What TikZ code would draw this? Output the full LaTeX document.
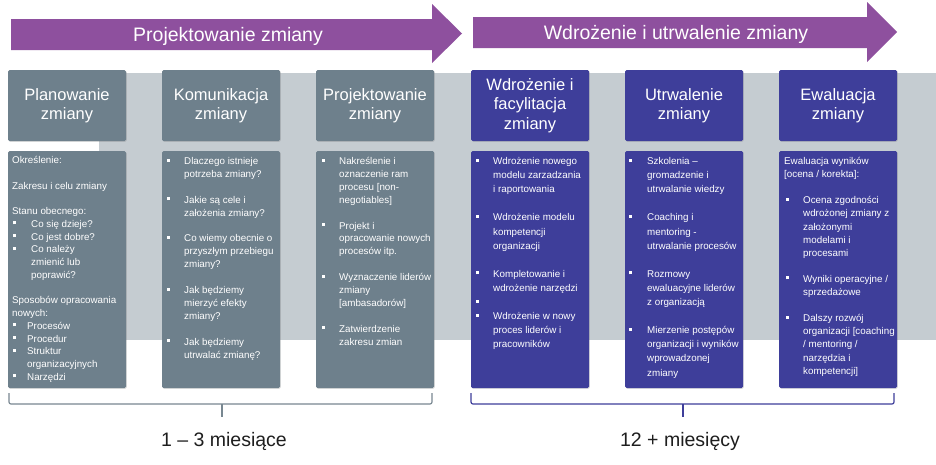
\documentclass[tikz,border=0pt]{standalone}
\usepackage{fontspec}
\setmainfont{Liberation Sans}
\usetikzlibrary{shadows}
\definecolor{purp}{RGB}{142,80,158}
\definecolor{greyc}{RGB}{110,128,140}
\definecolor{bluec}{RGB}{62,62,154}
\definecolor{bandc}{RGB}{197,204,209}
\definecolor{bracegrey}{RGB}{120,135,145}
\definecolor{labc}{RGB}{30,30,30}
\newcommand\gapline{\vspace{\baselineskip}}
\newcommand\bitem[3][0pt]{\par\hangindent=#2\hangafter=1\noindent\makebox[#2][l]{\hspace{#1}\raisebox{3pt}{\rule{3pt}{3pt}}}#3\par}
\newcommand\ptfont[1]{\fontsize{9.8}{#1}\selectfont\parindent=0pt\parskip=0pt}
\tikzset{
  headbox/.style={rounded corners=1.5pt, minimum width=118pt, minimum height=71pt, inner sep=0pt,
    text=white, align=center, font=\fontsize{16.5}{19.5}\selectfont,
    drop shadow={opacity=0.25, shadow xshift=0.8pt, shadow yshift=-0.8pt}},
  panelbox/.style={rounded corners=1.5pt, minimum width=118pt, minimum height=237pt, inner sep=0pt,
    drop shadow={opacity=0.25, shadow xshift=0.8pt, shadow yshift=-0.8pt}},
  ptext/.style={anchor=base west, inner sep=0pt, text=white},
  arrtext/.style={anchor=base, inner sep=0pt, text=white, font=\fontsize{19.5}{23}\selectfont},
  labtext/.style={anchor=base, inner sep=0pt, text=labc, font=\fontsize{19.5}{23}\selectfont},
  bracel/.style={line width=1.2pt, rounded corners=2pt}
}
\begin{document}
\begin{tikzpicture}[x=1pt, y=-1pt]
\useasboundingbox (0,0) rectangle (936,464);
\fill[white] (0,0) rectangle (936,464);
% background band
\fill[bandc] (99,73) rectangle (936,340);
% phase arrows
\fill[purp] (11,19) -- (432,19) -- (432,4) -- (462,33.5) -- (432,63) -- (432,50) -- (11,50) -- cycle;
\fill[purp] (473,17) -- (867,17) -- (867,2) -- (897,32) -- (867,62) -- (867,48) -- (473,48) -- cycle;
\node[arrtext] (a1) at (228,41) {Projektowanie zmiany};
\node[arrtext] (a2) at (676,39) {Wdrożenie i utrwalenie zmiany};
% header boxes
\node[headbox, fill=greyc] (h1) at (67,105.5) {Planowanie\\zmiany};
\node[headbox, fill=greyc] (h2) at (221,105.5) {Komunikacja\\zmiany};
\node[headbox, fill=greyc] (h3) at (375,105.5) {Projektowanie\\zmiany};
\node[headbox, fill=bluec] (h4) at (530,105.5) {Wdrożenie i\\facylitacja\\zmiany};
\node[headbox, fill=bluec] (h5) at (684,105.5) {Utrwalenie\\zmiany};
\node[headbox, fill=bluec] (h6) at (838,105.5) {Ewaluacja\\zmiany};
% panels
\node[panelbox, fill=greyc] (p1) at (67,269.5) {};
\node[panelbox, fill=greyc] (p2) at (221,269.5) {};
\node[panelbox, fill=greyc] (p3) at (375,269.5) {};
\node[panelbox, fill=bluec] (p4) at (530,269.5) {};
\node[panelbox, fill=bluec] (p5) at (684,269.5) {};
\node[panelbox, fill=bluec] (p6) at (838,269.5) {};
% panel texts
\node[ptext] (t1) at (12,163.5) {\parbox[t]{118pt}{\ptfont{12.75}
Określenie:\par\gapline
Zakresu i celu zmiany\par\gapline
Stanu obecnego:\par
\bitem[0.5pt]{19pt}{Co się dzieje?}
\bitem[0.5pt]{19pt}{Co jest dobre?}
\bitem[0.5pt]{19pt}{Co należy\\zmienić lub\\poprawić?}
\gapline
Sposobów opracowania\\nowych:\par
\bitem[0.5pt]{15pt}{Procesów}
\bitem[0.5pt]{15pt}{Procedur}
\bitem[0.5pt]{15pt}{Struktur\\organizacyjnych}
\bitem[0.5pt]{15pt}{Narzędzi}}};
\node[ptext] (t2) at (166.5,164.5) {\parbox[t]{118pt}{\ptfont{12.9}
\bitem{17.5pt}{Dlaczego istnieje\\potrzeba zmiany?}\gapline
\bitem{17.5pt}{Jakie są cele i\\założenia zmiany?}\gapline
\bitem{17.5pt}{Co wiemy obecnie o\\przyszłym przebiegu\\zmiany?}\gapline
\bitem{17.5pt}{Jak będziemy\\mierzyć efekty\\zmiany?}\gapline
\bitem{17.5pt}{Jak będziemy\\utrwalać zmianę?}}};
\node[ptext] (t3) at (321.5,164.5) {\parbox[t]{118pt}{\ptfont{12.9}
\bitem{17.5pt}{Nakreślenie i\\oznaczenie ram\\procesu [non-\\negotiables]}\gapline
\bitem{17.5pt}{Projekt i\\opracowanie nowych\\procesów itp.}\gapline
\bitem{17.5pt}{Wyznaczenie liderów\\zmiany\\{}[ambasadorów]}\gapline
\bitem{17.5pt}{Zatwierdzenie\\zakresu zmian}}};
\node[ptext] (t4) at (475.5,164.5) {\parbox[t]{118pt}{\ptfont{14.1}
\bitem{17.5pt}{Wdrożenie nowego\\modelu zarzadzania\\i raportowania}\gapline
\bitem{17.5pt}{Wdrożenie modelu\\kompetencji\\organizacji}\gapline
\bitem{17.5pt}{Kompletowanie i\\wdrożenie narzędzi}
\bitem{17.5pt}{\strut}
\bitem{17.5pt}{Wdrożenie w nowy\\proces liderów i\\pracowników}}};
\node[ptext] (t5) at (628.5,164.5) {\parbox[t]{118pt}{\ptfont{14.1}
\bitem{18.5pt}{Szkolenia –\\gromadzenie i\\utrwalanie wiedzy}\gapline
\bitem{18.5pt}{Coaching i\\mentoring -\\utrwalanie procesów}\gapline
\bitem{18.5pt}{Rozmowy\\ewaluacyjne liderów\\z organizacją}\gapline
\bitem{18.5pt}{Mierzenie postępów\\organizacji i wyników\\wprowadzonej\\zmiany}}};
\node[ptext] (t6) at (784,164.5) {\parbox[t]{118pt}{\ptfont{13.1}
Ewaluacja wyników\\{}[ocena / korekta]:\par\gapline
\bitem[1.5pt]{19pt}{Ocena zgodności\\wdrożonej zmiany z\\założonymi\\modelami i\\procesami}\gapline
\bitem[1.5pt]{19pt}{Wyniki operacyjne /\\sprzedażowe}\gapline
\bitem[1.5pt]{19pt}{Dalszy rozwój\\organizacji [coaching\\/ mentoring /\\narzędzia i\\kompetencji]}}};
% braces
\coordinate (b1l) at (9,393);
\coordinate (b1r) at (432,393);
\coordinate (b1m) at (222,404);
\coordinate (b1t) at (222,417);
\coordinate (b2l) at (471,393);
\coordinate (b2r) at (894,393);
\coordinate (b2m) at (683,404);
\coordinate (b2t) at (683,417);
\draw[bracel, bracegrey] (b1l) -- (b1l |- b1m) -- (b1r |- b1m) -- (b1r);
\draw[line width=1.2pt, bracegrey] (b1m) -- (b1t);
\draw[bracel, bluec] (b2l) -- (b2l |- b2m) -- (b2r |- b2m) -- (b2r);
\draw[line width=1.2pt, bluec] (b2m) -- (b2t);
\node[labtext] (l1) at (224,446.5) {1 – 3 miesiące};
\node[labtext] (l2) at (680,446.5) {12 + miesięcy};
\end{tikzpicture}
\end{document}
